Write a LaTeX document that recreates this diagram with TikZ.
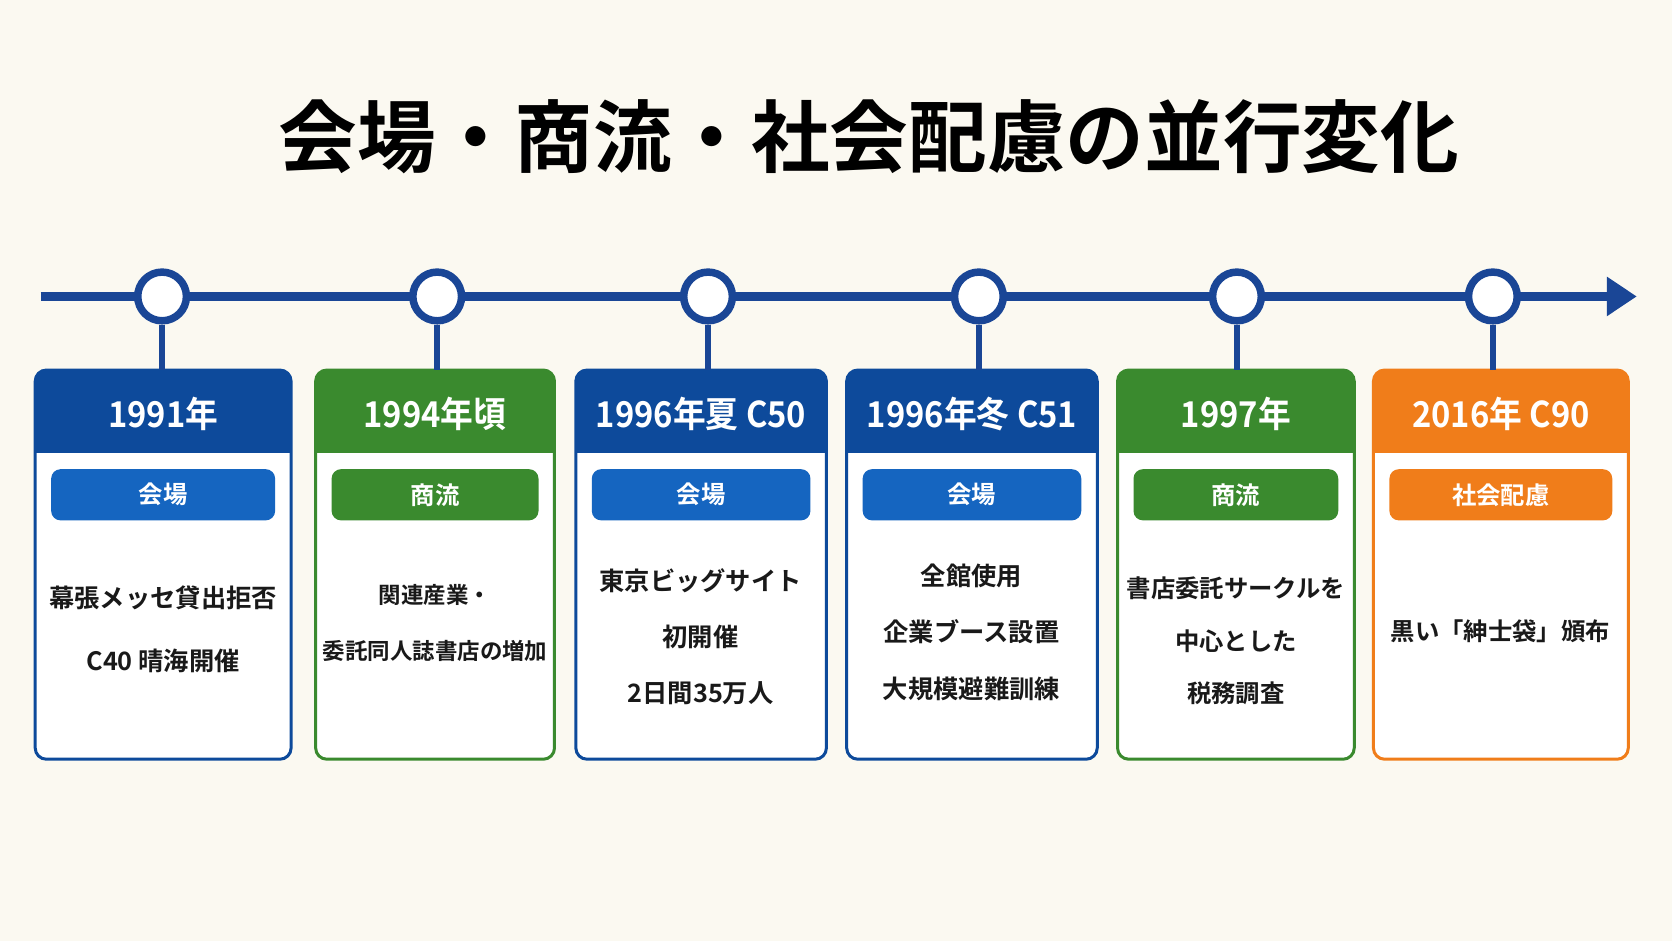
\documentclass[tikz,border=0pt]{standalone}
\usepackage{fontspec}
\setmainfont{Noto Sans CJK JP}[BoldFont={* Bold}]
\usetikzlibrary{arrows.meta}
\definecolor{bg}{HTML}{FBF9F1}
\definecolor{cb}{HTML}{0D4A9B}
\definecolor{pb}{HTML}{1565C0}
\definecolor{cg}{HTML}{3A8A2E}
\definecolor{co}{HTML}{F07D1A}
\definecolor{line}{HTML}{1A4696}
\tikzset{
 card/.style={draw=#1,line width=1.6pt,rounded corners=6pt},
 pill/.style={fill=#1,rounded corners=5pt},
 htext/.style={text=white,font=\fontsize{19}{22}\selectfont\bfseries,xscale=0.92},
 ptext/.style={text=white,font=\fontsize{13}{15}\selectfont\bfseries},
 btext/.style={align=center,font=\fontsize{13.5}{26}\selectfont\bfseries,text=black!90},
 dot/.style={circle,draw=line,line width=4pt,fill=white,minimum size=26pt,inner sep=0pt},
}
\begin{document}
\begin{tikzpicture}[x=0.02cm,y=-0.02cm]
\fill[bg] (0,0) rectangle (1568,882);
\useasboundingbox (0,0) rectangle (1568,882);
\node[font=\fontsize{42}{46}\selectfont\bfseries] (title) at (815,128) {会場・商流・社会配慮の並行変化};
\coordinate (ls) at (38,278); \coordinate (le) at (1535,278);
\draw[line,line width=4.5pt,-{Triangle[length=16pt,width=20pt]}] (ls) -- (le);
\foreach \xa/\xb/\c/\p/\d/\n/\h/\t in {
 33/273/cb/pb/152/a/{1991年}/{会場},
 296/520/cg/cg/410/b/{1994年頃}/{商流},
 540/775/cb/pb/664/c/{1996年夏 C50}/{会場},
 794/1029/cb/pb/918/d/{1996年冬 C51}/{会場},
 1048/1270/cg/cg/1160/e/{1997年}/{商流},
 1288/1527/co/co/1400/f/{2016年 C90}/{社会配慮}}{
 \fill[white,rounded corners=6pt] (\xa,347) rectangle (\xb,712);
 \begin{scope}
 \clip[rounded corners=6pt] (\xa,347) rectangle (\xb,712);
 \fill[\c] (\xa,347) rectangle (\xb,425);
 \end{scope}
 \draw[card=\c] (\xa,347) rectangle (\xb,712);
 \node[htext] (h\n) at ({(\xa+\xb)/2},388) {\h};
 \fill[pill=\p] (\xa+15,440) rectangle (\xb-15,488);
 \node[ptext] (p\n) at ({(\xa+\xb)/2},464) {\t};
 \node[dot] (dot\n) at (\d,278) {};
 \coordinate (top\n) at (\d,347);
 \draw[line,line width=3.5pt] (dot\n.south) -- (top\n);
}
\node[btext] at (153,590) {幕張メッセ貸出拒否\\[8pt]C40 晴海開催};
\node[btext,font=\fontsize{12}{26}\selectfont\bfseries] at (408,584) {関連産業・\\[4pt]委託同人誌書店の増加};
\node[btext] at (657,597) {東京ビッグサイト\\[4pt]初開催\\[4pt]2日間35万人};
\node[btext] at (911,593) {全館使用\\[4pt]企業ブース設置\\[4pt]大規模避難訓練};
\node[btext,font=\fontsize{13}{26}\selectfont\bfseries] at (1159,601) {書店委託サークルを\\[2pt]中心とした\\[2pt]税務調査};
\node[btext,font=\fontsize{13}{26}\selectfont\bfseries] at (1407,592) {黒い「紳士袋」頒布};
\end{tikzpicture}
\end{document}
